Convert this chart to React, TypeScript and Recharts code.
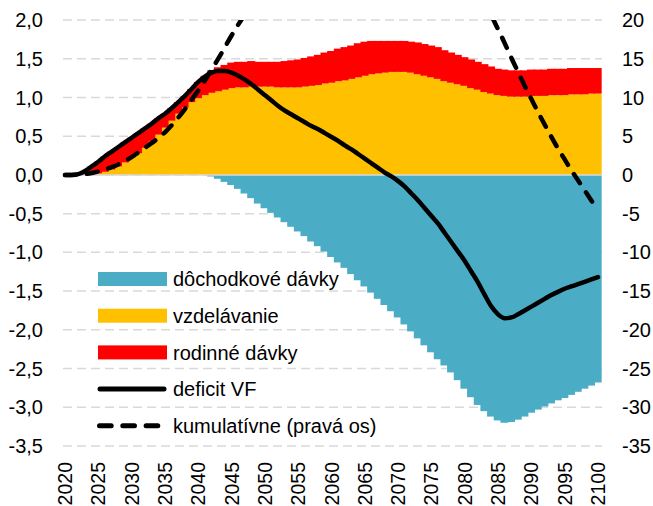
import React from "react";
import {
    ComposedChart,
    Bar,
    Line,
    XAxis,
    YAxis,
    CartesianGrid,
    ReferenceLine,
    Legend
} from "recharts";

// roky 2020-2100
const years = [
    2020, 2021, 2022, 2023, 2024, 2025, 2026, 2027, 2028, 2029,
    2030, 2031, 2032, 2033, 2034, 2035, 2036, 2037, 2038, 2039,
    2040, 2041, 2042, 2043, 2044, 2045, 2046, 2047, 2048, 2049,
    2050, 2051, 2052, 2053, 2054, 2055, 2056, 2057, 2058, 2059,
    2060, 2061, 2062, 2063, 2064, 2065, 2066, 2067, 2068, 2069,
    2070, 2071, 2072, 2073, 2074, 2075, 2076, 2077, 2078, 2079,
    2080, 2081, 2082, 2083, 2084, 2085, 2086, 2087, 2088, 2089,
    2090, 2091, 2092, 2093, 2094, 2095, 2096, 2097, 2098, 2099,
    2100
];

// % HDP (lavá os)
const dochodkoveDavky = [
    0, 0, 0, 0, 0, 0, 0, 0, 0, 0,
    0, 0, 0, 0, 0, 0, 0, 0, 0, 0,
    0, 0, -0.02, -0.05, -0.09, -0.13, -0.18, -0.24, -0.3, -0.37,
    -0.43, -0.49, -0.55, -0.61, -0.67, -0.73, -0.79, -0.86, -0.92, -0.99,
    -1.06, -1.13, -1.2, -1.28, -1.36, -1.44, -1.52, -1.6, -1.68, -1.76,
    -1.84, -1.93, -2.02, -2.11, -2.2, -2.29, -2.38, -2.46, -2.55, -2.65,
    -2.76, -2.87, -2.97, -3.05, -3.12, -3.17, -3.2, -3.19, -3.16, -3.12,
    -3.07, -3.03, -2.99, -2.95, -2.91, -2.88, -2.84, -2.8, -2.76, -2.72,
    -2.68
];

const vzdelavanie = [
    0, 0, 0, 0, 0.01, 0.02, 0.04, 0.07, 0.11, 0.16,
    0.22, 0.28, 0.35, 0.43, 0.52, 0.61, 0.7, 0.79, 0.87, 0.94,
    0.99, 1.03, 1.06, 1.08, 1.1, 1.12, 1.13, 1.13, 1.14, 1.14,
    1.14, 1.14, 1.13, 1.13, 1.13, 1.13, 1.14, 1.15, 1.16, 1.18,
    1.19, 1.21, 1.22, 1.24, 1.26, 1.28, 1.3, 1.31, 1.32, 1.33,
    1.33, 1.33, 1.32, 1.3, 1.28, 1.26, 1.24, 1.21, 1.19, 1.17,
    1.15, 1.12, 1.1, 1.07, 1.05, 1.03, 1.02, 1.01, 1.01, 1.01,
    1.02, 1.02, 1.02, 1.03, 1.03, 1.03, 1.04, 1.04, 1.04, 1.05,
    1.05
];

const rodinneDavky = [
    0, 0, 0.01, 0.05, 0.1, 0.15, 0.2, 0.23, 0.25, 0.26,
    0.26, 0.26, 0.25, 0.23, 0.21, 0.18, 0.16, 0.15, 0.15, 0.17,
    0.21, 0.25, 0.29, 0.31, 0.32, 0.33, 0.33, 0.33, 0.33, 0.32,
    0.32, 0.32, 0.33, 0.34, 0.35, 0.36, 0.37, 0.38, 0.39, 0.4,
    0.41, 0.42, 0.43, 0.43, 0.44, 0.44, 0.43, 0.42, 0.41, 0.4,
    0.4, 0.4, 0.4, 0.41, 0.41, 0.41, 0.41, 0.4, 0.39, 0.38,
    0.37, 0.37, 0.36, 0.36, 0.35, 0.34, 0.34, 0.34, 0.34, 0.34,
    0.34, 0.34, 0.34, 0.34, 0.34, 0.34, 0.34, 0.34, 0.34, 0.33,
    0.33
];

const deficitVF = [
    0, 0, 0.01, 0.05, 0.11, 0.17, 0.24, 0.3, 0.36, 0.42,
    0.48, 0.54, 0.6, 0.66, 0.73, 0.79, 0.86, 0.94, 1.02, 1.11,
    1.2, 1.27, 1.32, 1.34, 1.34, 1.32, 1.28, 1.23, 1.17, 1.1,
    1.03, 0.96, 0.89, 0.83, 0.78, 0.73, 0.68, 0.63, 0.59, 0.54,
    0.49, 0.44, 0.38, 0.33, 0.27, 0.21, 0.15, 0.09, 0.03, -0.02,
    -0.08, -0.15, -0.24, -0.33, -0.43, -0.53, -0.63, -0.75, -0.87, -0.99,
    -1.11, -1.25, -1.39, -1.55, -1.7, -1.8, -1.85, -1.84, -1.8, -1.75,
    -1.7, -1.65, -1.6, -1.55, -1.51, -1.47, -1.44, -1.41, -1.38, -1.35,
    -1.32
];

// % HDP (pravá os)
const kumulativne = [
    0, 0, 0.02, 0.1, 0.25, 0.45, 0.7, 1.0, 1.35, 1.8,
    2.3, 2.9, 3.5, 4.1, 4.75, 5.5, 6.4, 7.4, 8.5, 9.7,
    10.9, 12.2, 13.6, 15.0, 16.5, 18.0, 19.4, 20.7, 21.9, 23.1,
    24.2, 25.2, 26.2, 27.1, 27.9, 28.7, 29.4, 30.1, 30.7, 31.3,
    31.8, 32.3, 32.7, 33.1, 33.4, 33.6, 33.8, 33.9, 33.9, 33.9,
    33.8, 33.6, 33.3, 32.9, 32.4, 31.8, 31.1, 30.3, 29.4, 28.4,
    27.2, 25.9, 24.2, 22.5, 20.6, 18.8, 17.0, 15.1, 13.3, 11.5,
    9.8, 8.1, 6.5, 4.9, 3.4, 2.0, 0.6, -0.7, -2.0, -3.3,
    -4.6
];

const yearTicks = [2020, 2025, 2030, 2035, 2040, 2045, 2050, 2055, 2060, 2065, 2070, 2075, 2080, 2085, 2090, 2095, 2100];
const leftTicks = [2, 1.5, 1, 0.5, 0, -0.5, -1, -1.5, -2, -2.5, -3, -3.5];
const rightTicks = [20, 15, 10, 5, 0, -5, -10, -15, -20, -25, -30, -35];

const COLORS = {
    dochodkove: "#4BACC6",
    vzdelavanie: "#FFC000",
    rodinne: "#FF0000",
    line: "#000000",
    grid: "#D9D9D9"
};

const legendItems = [
    { label: "dôchodkové dávky", kind: "bar", color: COLORS.dochodkove },
    { label: "vzdelávanie", kind: "bar", color: COLORS.vzdelavanie },
    { label: "rodinné dávky", kind: "bar", color: COLORS.rodinne },
    { label: "deficit VF", kind: "line", color: COLORS.line },
    { label: "kumulatívne (pravá os)", kind: "dash", color: COLORS.line }
];

const FONT = "'Liberation Sans', Arial, sans-serif";

const data = years.map((year, i) => ({
    year,
    dochodkove: dochodkoveDavky[i],
    vzdelavanie: vzdelavanie[i],
    rodinne: rodinneDavky[i],
    deficit: deficitVF[i],
    kumulativne: kumulativne[i]
}));

// stĺpce bez medzier (ako v Exceli s nulovou medzerou)
const SolidBar = (props: any) => {
    const { x, y, width, height, fill } = props;
    if (!height || !width) return null;
    const top = Math.min(y, y + height);
    return <rect x={x - 1} y={top} width={width + 2} height={Math.abs(height)} fill={fill} />;
};

const YearTick = (props: any) => {
    const { x, y, payload } = props;
    return (
        <text
            x={x}
            y={y}
            transform={`rotate(-90 ${x} ${y})`}
            textAnchor="end"
            dy="0.36em"
            fontSize={19.5}
            fontFamily={FONT}
            fill="#000"
        >
            {payload.value}
        </text>
    );
};

const LegendBox = () => {
    const rowGap = 36.7;
    return (
        <svg width={320} height={180} style={{ display: "block" }}>
            {legendItems.map((item, i) => {
                const cy = 16 + i * rowGap;
                return (
                    <g key={item.label}>
                        {item.kind === "bar" && (
                            <rect x={1} y={cy - 7} width={69} height={14} fill={item.color} />
                        )}
                        {item.kind === "line" && (
                            <line x1={3} x2={67} y1={cy} y2={cy} stroke={item.color} strokeWidth={5} strokeLinecap="round" />
                        )}
                        {item.kind === "dash" && (
                            <line
                                x1={2.5}
                                x2={62}
                                y1={cy}
                                y2={cy}
                                stroke={item.color}
                                strokeWidth={5}
                                strokeLinecap="round"
                                strokeDasharray="11.7 11.6"
                            />
                        )}
                        <text x={76} y={cy} dy="0.36em" fontSize={20} fontFamily={FONT} fill="#000">
                            {item.label}
                        </text>
                    </g>
                );
            })}
        </svg>
    );
};

export default function App() {
    return (
        <div style={{ position: "absolute", left: 0, top: 0, width: 653, height: 506, background: "#fff", fontFamily: FONT }}>
            <ComposedChart
                width={653}
                height={506}
                data={data}
                stackOffset="sign"
                margin={{ top: 20, right: 0, bottom: 0, left: 0 }}
            >
                <CartesianGrid
                    yAxisId="left"
                    horizontal={true}
                    vertical={false}
                    stroke={COLORS.grid}
                    strokeWidth={1.5}
                    strokeDasharray="9 5"
                />
                <XAxis
                    dataKey="year"
                    type="number"
                    domain={[2020, 2100]}
                    ticks={yearTicks}
                    interval={0}
                    padding={{ left: 2, right: 4 }}
                    tickSize={0}
                    tickMargin={16}
                    axisLine={false}
                    tickLine={false}
                    height={60}
                    tick={<YearTick />}
                />
                <YAxis
                    yAxisId="left"
                    domain={[-3.5, 2]}
                    ticks={leftTicks}
                    interval={0}
                    allowDataOverflow
                    width={63}
                    tickSize={0}
                    tickMargin={20}
                    axisLine={false}
                    tickLine={false}
                    tickFormatter={(v: number) => v.toFixed(1).replace(".", ",")}
                    tick={{ fontSize: 20, fill: "#000", fontFamily: FONT }}
                />
                <YAxis
                    yAxisId="right"
                    orientation="right"
                    domain={[-35, 20]}
                    ticks={rightTicks}
                    interval={0}
                    allowDataOverflow
                    width={51}
                    tickSize={0}
                    tickMargin={20}
                    axisLine={false}
                    tickLine={false}
                    tick={{ fontSize: 20, fill: "#000", fontFamily: FONT }}
                />
                <Legend
                    layout="vertical"
                    align="center"
                    verticalAlign="middle"
                    content={() => <LegendBox />}
                    wrapperStyle={{ left: 97, top: 263, width: 320, height: 180 }}
                />

                <Bar yAxisId="left" dataKey="dochodkove" stackId="a" fill={COLORS.dochodkove} barSize={6} shape={<SolidBar />} isAnimationActive={false} />
                <Bar yAxisId="left" dataKey="vzdelavanie" stackId="a" fill={COLORS.vzdelavanie} barSize={6} shape={<SolidBar />} isAnimationActive={false} />
                <Bar yAxisId="left" dataKey="rodinne" stackId="a" fill={COLORS.rodinne} barSize={6} shape={<SolidBar />} isAnimationActive={false} />

                <ReferenceLine yAxisId="left" y={0} stroke={COLORS.grid} strokeWidth={1.5} />

                <Line
                    yAxisId="left"
                    type="monotone"
                    dataKey="deficit"
                    stroke={COLORS.line}
                    strokeWidth={4.5}
                    strokeLinecap="round"
                    dot={false}
                    isAnimationActive={false}
                />
                <Line
                    yAxisId="right"
                    type="monotone"
                    dataKey="kumulativne"
                    stroke={COLORS.line}
                    strokeWidth={4.5}
                    strokeLinecap="round"
                    strokeDasharray="11 11"
                    dot={false}
                    isAnimationActive={false}
                />
            </ComposedChart>
        </div>
    );
}
